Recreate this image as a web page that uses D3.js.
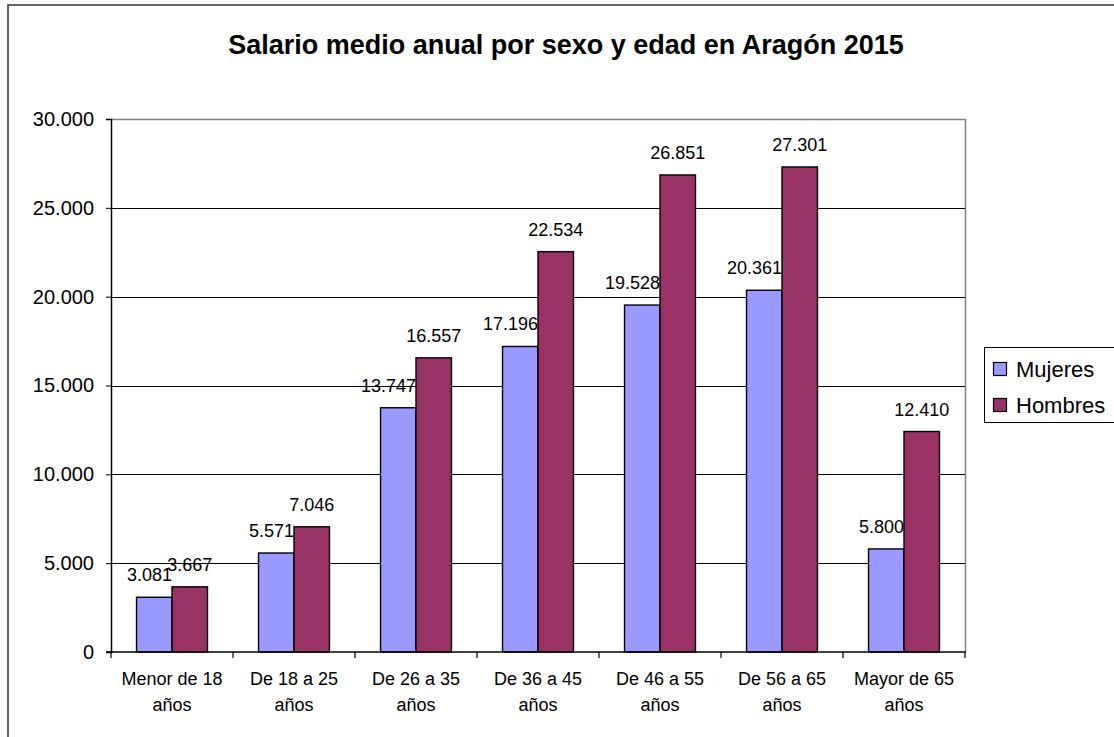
<!DOCTYPE html>
<html><head><meta charset="utf-8">
<script src="https://cdn.jsdelivr.net/npm/d3@7"></script>
<style>body{margin:0;background:#fff;} svg{display:block;font-family:Arial,"Liberation Sans",sans-serif;}</style>
</head><body>
<script>
const title = "Salario medio anual por sexo y edad en Aragón 2015";
const categories = [["Menor de 18","años"],["De 18 a 25","años"],["De 26 a 35","años"],["De 36 a 45","años"],["De 46 a 55","años"],["De 56 a 65","años"],["Mayor de 65","años"]];
const seriesNames = ["Mujeres","Hombres"];
const mujeres = [3081,5571,13747,17196,19528,20361,5800];
const hombres = [3667,7046,16557,22534,26851,27301,12410];
const yTicks = [0,5000,10000,15000,20000,25000,30000];
const colors = ["#9999FF","#993366"];

const W=1114,H=737;
const svg=d3.select("body").append("svg").attr("width",W).attr("height",H);
const loc=d3.formatLocale({decimal:",",thousands:".",grouping:[3],currency:["","€"]});
const fmt=loc.format(",d");

// outer frame
svg.append("rect").attr("x",8).attr("y",5).attr("width",W+20).attr("height",H+20)
  .attr("fill","none").attr("stroke","#333").attr("stroke-width",1.5);

svg.append("text").attr("x",566).attr("y",54).attr("text-anchor","middle")
  .attr("font-size",27).attr("font-weight","bold").text(title);

const L=111,R=965,T=119,B=652;
const x=d3.scaleBand().domain(d3.range(categories.length)).range([L,R]).padding(0);
const xs=d3.scaleBand().domain(seriesNames).range([0,x.bandwidth()]).paddingInner(0).paddingOuter(0.72);
const y=d3.scaleLinear().domain([0,30000]).range([B,T]);

// gridlines
svg.append("g").selectAll("line").data(yTicks.filter(v=>v>0&&v<30000)).join("line")
  .attr("x1",L).attr("x2",R).attr("y1",d=>Math.round(y(d))+0.5).attr("y2",d=>Math.round(y(d))+0.5)
  .attr("stroke","#000").attr("stroke-width",1);
// plot border top/right
svg.append("path").attr("d",`M${L},${T+0.5}H${R+0.5}V${B}`).attr("fill","none").attr("stroke","#808080").attr("stroke-width",1.5);

// bars
const data=[mujeres,hombres];
const groups=svg.append("g").selectAll("g").data(categories).join("g")
  .attr("transform",(d,i)=>`translate(${x(i)},0)`);
seriesNames.forEach((s,si)=>{
  groups.append("rect")
    .attr("x",(d,i)=>xs(s)).attr("y",(d,i)=>y(data[si][i]))
    .attr("width",xs.bandwidth()).attr("height",(d,i)=>B-y(data[si][i]))
    .attr("fill",colors[si]).attr("stroke","#000").attr("stroke-width",1.4);
});
// labels
groups.append("text")
  .attr("x",(d,i)=>xs("Mujeres")+xs.bandwidth()).attr("y",(d,i)=>y(mujeres[i])-16)
  .attr("text-anchor","end").attr("font-size",18).text((d,i)=>fmt(mujeres[i]));
groups.append("text")
  .attr("x",(d,i)=>xs("Hombres")+xs.bandwidth()/2).attr("y",(d,i)=>y(hombres[i])-16)
  .attr("text-anchor","middle").attr("font-size",18).text((d,i)=>fmt(hombres[i]));

// y axis
const yAxis=d3.axisLeft(y).tickValues(yTicks).tickFormat(fmt).tickSize(5).tickPadding(12);
const ya=svg.append("g").attr("transform",`translate(${L},0)`).call(yAxis);
ya.selectAll("text").attr("font-size",20).attr("fill","#000").attr("font-family","Arial,'Liberation Sans',sans-serif");
ya.select(".domain").attr("stroke","#000").attr("stroke-width",1.5);
ya.selectAll(".tick line").attr("stroke","#000");

// x axis
svg.append("line").attr("x1",L-5).attr("x2",R+1).attr("y1",B).attr("y2",B).attr("stroke","#000").attr("stroke-width",1.5);
svg.append("g").selectAll("line").data(d3.range(categories.length+1)).join("line")
  .attr("x1",i=>Math.round(L+i*x.step())).attr("x2",i=>Math.round(L+i*x.step()))
  .attr("y1",B).attr("y2",B+6).attr("stroke","#000").attr("stroke-width",1.2);
const cl=svg.append("g").selectAll("text").data(categories).join("text")
  .attr("x",(d,i)=>x(i)+x.bandwidth()/2).attr("y",685).attr("text-anchor","middle").attr("font-size",18);
cl.append("tspan").attr("x",(d,i)=>x(i)+x.bandwidth()/2).text(d=>d[0]);
cl.append("tspan").attr("x",(d,i)=>x(i)+x.bandwidth()/2).attr("dy",26).text(d=>d[1]);

// legend
const lg=svg.append("g");
lg.append("rect").attr("x",984.5).attr("y",347.5).attr("width",140).attr("height",75).attr("fill","#fff").attr("stroke","#000").attr("stroke-width",1);
seriesNames.forEach((s,i)=>{
  lg.append("rect").attr("x",993.5).attr("y",362.5+i*36).attr("width",13).attr("height",13).attr("fill",colors[i]).attr("stroke","#000").attr("stroke-width",1.2);
  lg.append("text").attr("x",1016).attr("y",377+i*36).attr("font-size",22).text(s);
});
</script>
</body></html>
